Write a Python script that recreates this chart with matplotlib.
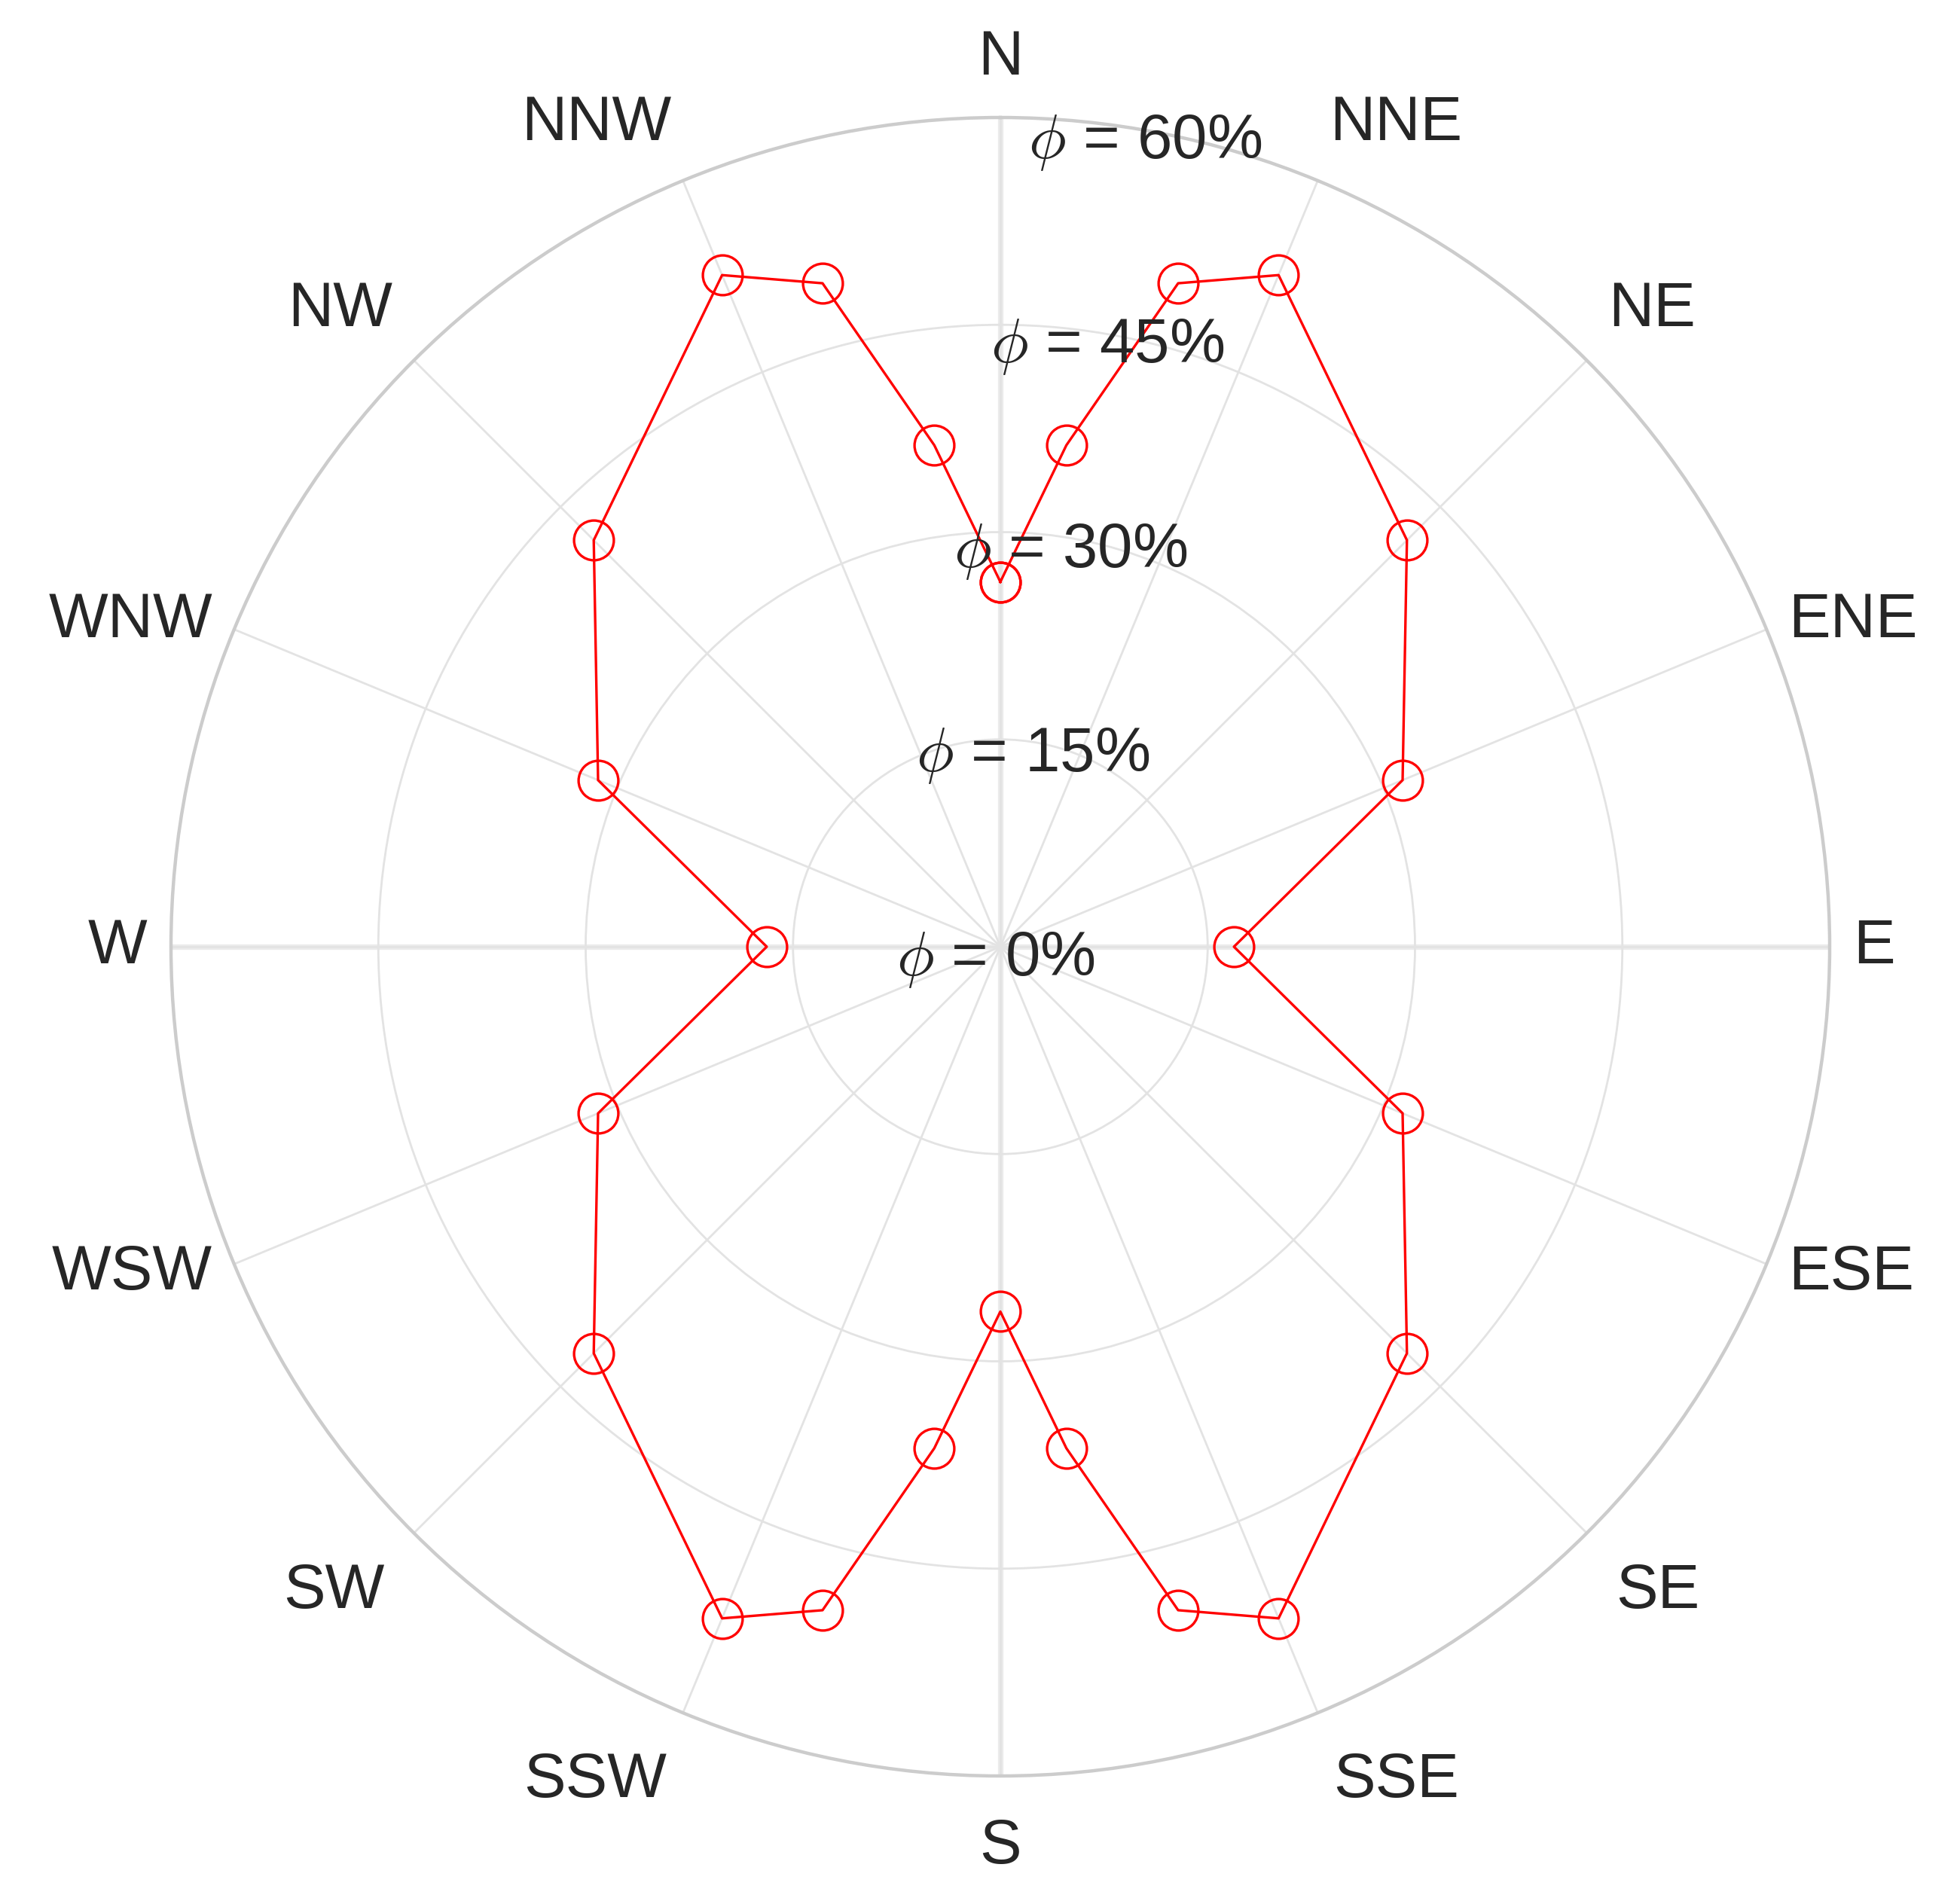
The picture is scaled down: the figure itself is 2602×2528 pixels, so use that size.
import numpy as np
import matplotlib
matplotlib.use("Agg")
import matplotlib.pyplot as plt

# Данные: направления ветра и значения phi (%)
directions = ['N', 'NNE', 'NE', 'ENE', 'E', 'ESE', 'SE', 'SSE',
              'S', 'SSW', 'SW', 'WSW', 'W', 'WNW', 'NW', 'NNW']
theta_deg = [0, 7.5, 15, 22.5, 45, 67.5, 90, 112.5, 135, 157.5, 165, 172.5,
             180, 187.5, 195, 202.5, 225, 247.5, 270, 292.5, 315, 337.5, 345, 352.5]
phi_pct = [26.4, 36.6, 49.7, 52.6, 41.6, 31.5, 16.9, 31.5, 41.6, 52.6, 49.7, 36.6,
           26.4, 36.6, 49.7, 52.6, 41.6, 31.5, 16.9, 31.5, 41.6, 52.6, 49.7, 36.6]
r_ticks = [0, 15, 30, 45, 60]

plt.rcParams['font.family'] = ['Liberation Sans', 'DejaVu Sans']
plt.rcParams['mathtext.fontset'] = 'cm'

text_color = '#262626'
grid_color = '#e3e3e3'

W, H, DPI = 2602, 2528, 200
fig = plt.figure(figsize=(W / DPI, H / DPI), dpi=DPI)
fig.patch.set_facecolor('white')

# Центр и радиус круга в пикселях
cx, cy, R = 1328, 1257, 1101
ax = fig.add_axes([(cx - R) / W, (H - cy - R) / H, 2 * R / W, 2 * R / H],
                  projection='polar')
ax.set_theta_zero_location('N')
ax.set_theta_direction(-1)
ax.set_ylim(0, r_ticks[-1])

# Сетка
ax.set_thetagrids(np.arange(0, 360, 22.5), labels=[''] * 16)
ax.set_rgrids(r_ticks[1:], labels=[''] * 4)
ax.grid(True, color=grid_color, linewidth=1.0)
ax.tick_params(axis='both', length=0)
ax.spines['polar'].set_color('#cccccc')
ax.spines['polar'].set_linewidth(1.6)

# Главные оси (N-S, E-W) толще
for ang in [0, 90, 180, 270]:
    ax.plot([np.deg2rad(ang)] * 2, [0, r_ticks[-1]], color='#ebebeb',
            linewidth=2.6, zorder=1.5, solid_capstyle='butt')

# Линия данных
th = np.deg2rad(theta_deg + theta_deg[:1])
rr = phi_pct + phi_pct[:1]
ax.plot(th, rr, color='#ff0000', linewidth=1.2, marker='o', markersize=19,
        markerfacecolor='none', markeredgecolor='#ff0000', markeredgewidth=1.2,
        zorder=3, clip_on=False)

# Подписи направлений
for i, name in enumerate(directions):
    ang = np.deg2rad(i * 22.5)
    s, c = np.sin(ang), np.cos(ang)
    ha = 'left' if s > 0.1 else ('right' if s < -0.1 else 'center')
    if c > 0.5:
        va, a_lab = 'bottom', 62.2
    elif c < -0.5:
        va, a_lab = 'top', 63.0
    else:
        va, a_lab = 'center', 61.7
    ax.text(ang, a_lab, name, ha=ha, va=va, fontsize=30, color=text_color,
            clip_on=False)

# Подписи радиальных окружностей
for v in r_ticks:
    ax.annotate(r'$\phi$ = %d%%' % v, xy=(0, v), xycoords='data',
                xytext=(-6 + 3.3 * v, -(8 + 0.27 * v) - 30),
                textcoords='offset pixels', ha='center', va='baseline',
                fontsize=30, color=text_color, zorder=4, annotation_clip=False)

fig.savefig('out.png', dpi=DPI, facecolor='white')
